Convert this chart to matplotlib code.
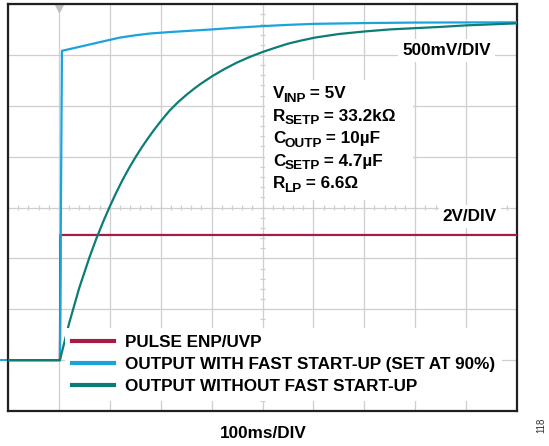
import numpy as np
import matplotlib
matplotlib.use("Agg")
import matplotlib.pyplot as plt
from matplotlib.lines import Line2D
from matplotlib.patches import Rectangle

plt.rcParams['font.family'] = ['Liberation Sans', 'DejaVu Sans']
plt.rcParams['font.weight'] = 'bold'

# time in divisions (100ms/DIV), amplitude in divisions
t_pulse = [0, 1.02, 1.03, 10.0]
v_pulse = [1.0, 1.0, 3.46, 3.46]

t_fast = [0, 1.02, 1.06, 1.5, 1.8, 2.2, 2.5, 2.79, 3.2, 3.6, 4.0, 4.5, 5.0,
          5.5, 6.03, 7.0, 8.0, 10.0]
v_fast = [1.0, 1.0, 7.08, 7.18, 7.25, 7.34, 7.385, 7.42, 7.45, 7.475, 7.50,
          7.535, 7.565, 7.59, 7.61, 7.625, 7.635, 7.64]

t_slow = [0, 1.02, 1.06, 1.1, 1.15, 1.2, 1.3, 1.4, 1.5, 1.6, 1.74, 1.87,
          2.0, 2.12, 2.25, 2.37, 2.5, 2.62, 2.75, 2.88, 3.02, 3.18, 3.34,
          3.5, 3.65, 3.77, 4.01, 4.25, 4.5, 4.75, 5.01, 5.25, 5.5, 5.75,
          6.03, 6.5, 7.0, 7.5, 8.09, 8.5, 9.0, 9.5, 10.0]
v_slow = [1.0, 1.0, 1.16, 1.32, 1.52, 1.72, 2.07, 2.42, 2.72, 3.02, 3.40,
          3.72, 4.02, 4.28, 4.54, 4.76, 4.98, 5.17, 5.36, 5.54, 5.72, 5.91,
          6.07, 6.21, 6.33, 6.42, 6.58, 6.72, 6.85, 6.96, 7.06, 7.14, 7.22,
          7.28, 7.34, 7.41, 7.46, 7.50, 7.53, 7.55, 7.58, 7.60, 7.62]

labels = ['PULSE ENP/UVP',
          'OUTPUT WITH FAST START-UP (SET AT 90%)',
          'OUTPUT WITHOUT FAST START-UP']
colors = ['#A51D45', '#1BA3DB', '#0B7D76']

cond_sym = ['V', 'R', 'C', 'C', 'R']
cond_sub = ['INP', 'SETP', 'OUTP', 'SETP', 'LP']
cond_val = [' = 5V', ' = 33.2kΩ', ' = 10µF', ' = 4.7µF', ' = 6.6Ω']

FS = 12.3

fig = plt.figure(figsize=(5.49, 4.46), dpi=100)
ax = fig.add_axes([8 / 549, 1 - 411 / 446, 509 / 549, 407 / 446])
ax.set_xlim(0, 10)
ax.set_ylim(0, 8)

# scope graticule
ax.set_xticks(np.arange(11))
ax.set_yticks(np.arange(9))
ax.grid(True, color='#cfcfcf', lw=0.9, zorder=0)
ax.tick_params(length=0, labelbottom=False, labelleft=False)
ax.set_axisbelow(True)
minor_x = np.arange(0, 10.01, 0.2)
minor_y = np.arange(0, 8.01, 0.2)
ax.vlines(minor_x, 4 - 0.05, 4 + 0.05, color='#cfcfcf', lw=0.9, zorder=0.5)
ax.hlines(minor_y, 5 - 0.05, 5 + 0.05, color='#cfcfcf', lw=0.9, zorder=0.5)
for s in ax.spines.values():
    s.set_linewidth(1.6)
    s.set_color('#231f20')

ax.plot(t_pulse, v_pulse, color=colors[0], lw=1.6, zorder=3)
ax.plot(t_fast, v_fast, color=colors[1], lw=1.6, zorder=4)
ax.plot(t_slow, v_slow, color=colors[2], lw=1.6, zorder=5)

# ground marker and trigger marker
ax.plot([-0.16, 0], [1.0, 1.0], color=colors[1], lw=1.4, clip_on=False)
ax.plot([1.0], [7.93], marker='v', color='#c0c0c0', ms=6, clip_on=False, zorder=2)

# conditions block (symbol + subscript + value)
ax.add_patch(Rectangle((5.05, 4.15), 2.91, 2.35, facecolor='white',
                       edgecolor='none', zorder=1))
ys = [6.15, 5.71, 5.26, 4.82, 4.38]
for y, sym, sub, val in zip(ys, cond_sym, cond_sub, cond_val):
    t1 = ax.text(5.21, y, sym, fontsize=FS, fontweight='bold',
                 va='baseline', ha='left', zorder=6)
    t2 = ax.annotate(sub, xy=(1, 0), xycoords=t1, xytext=(-0.8, -2.5),
                     textcoords='offset points', fontsize=9.7,
                     fontweight='bold', va='bottom', ha='left', zorder=6)
    ax.annotate(val, xy=(1, 0), xycoords=(t2, t1), xytext=(-0.5, 0),
                textcoords='offset points', fontsize=FS, fontweight='bold',
                va='bottom', ha='left', zorder=6)

box = dict(facecolor='white', edgecolor='none', pad=3)
ax.text(8.61, 7.08, '500mV/DIV', fontsize=FS, fontweight='bold',
        ha='center', va='center', bbox=box, zorder=6)
ax.text(9.07, 3.83, '2V/DIV', fontsize=FS, fontweight='bold',
        ha='center', va='center', bbox=box, zorder=6)

handles = [Line2D([], [], color=c, lw=3) for c in colors]
leg = ax.legend(handles, labels, loc='center left',
                bbox_to_anchor=(0.112, 0.115), frameon=True,
                fancybox=False, framealpha=1, edgecolor='none',
                prop={'size': FS, 'weight': 'bold'},
                handlelength=2.45, handletextpad=0.68, labelspacing=0.42,
                borderpad=0.4, borderaxespad=0)
leg.set_zorder(7)

fig.text(263 / 549, 1 - 434 / 446, '100ms/DIV', fontsize=FS,
         fontweight='bold', ha='center', va='center')
fig.text(541 / 549, 1 - 425 / 446, '118', fontsize=7, fontweight='normal',
         rotation=90, ha='center', va='center', color='#333333')

fig.savefig('out.png', dpi=100)
